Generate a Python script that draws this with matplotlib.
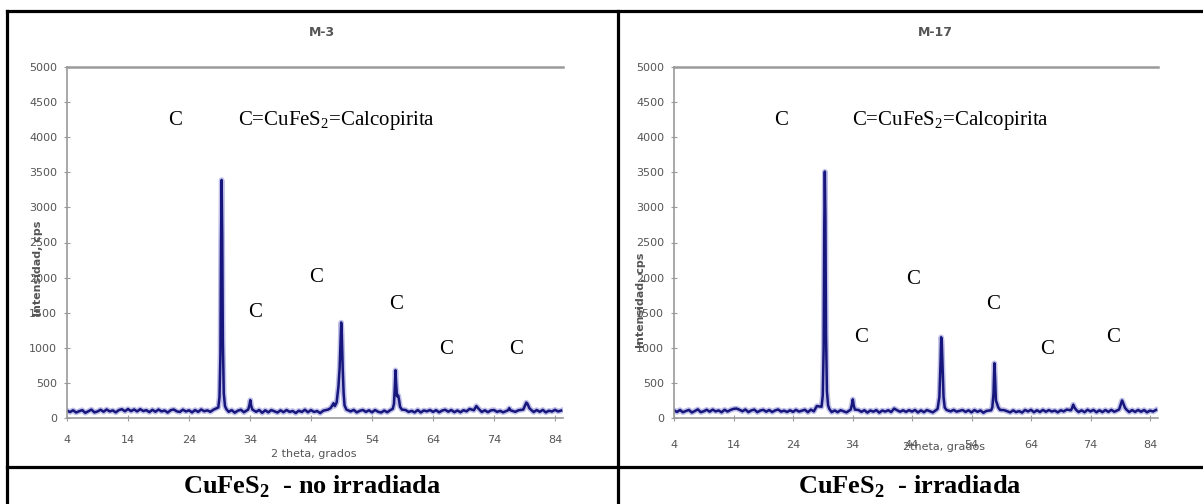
import numpy as np
import matplotlib
matplotlib.use("Agg")
import matplotlib.pyplot as plt
from matplotlib.lines import Line2D

plt.rcParams['mathtext.fontset'] = 'custom'
plt.rcParams['mathtext.rm'] = 'Liberation Serif'
plt.rcParams['mathtext.bf'] = 'Liberation Serif:bold'

W, H = 1203, 504

# scan grid for the baseline (0.5 deg steps, 4 .. 85)
base_x = np.arange(4.0, 85.01, 0.5)

# M-3 (no irradiada) baseline
m3_base = [
    105, 85, 110, 78, 97, 112, 74, 96, 120, 80, 93, 118, 89, 122, 94, 108, 80, 113, 125, 96,
    128, 98, 122, 94, 126, 99, 112, 84, 117, 89, 121, 94, 107, 78, 111, 122, 95, 86, 119, 93,
    110, 80, 114, 87, 122, 96, 109, 88, 118, 130, 140, 130, 115, 88, 112, 76, 104, 118, 82, 111,
    85, 118, 88, 114, 74, 110, 81, 113, 96, 78, 109, 83, 114, 87, 100, 71, 104, 86, 118, 82,
    113, 86, 99, 70, 104, 95, 117, 81, 110, 120, 140, 160, 120, 94, 116, 80, 102, 115, 87, 110,
    81, 114, 89, 78, 106, 82, 112, 95, 78, 109, 83, 114, 87, 101, 80, 114, 79, 108, 95, 114,
    87, 112, 81, 106, 118, 90, 114, 83, 107, 82, 111, 95, 130, 110, 88, 114, 86, 110, 83, 109,
    114, 87, 102, 81, 115, 96, 118, 88, 110, 84, 113, 87, 111, 85, 114, 88, 116, 80, 104, 92,
    117, 93, 106,
]
# M-3 peaks (2theta, cps)
m3_peak_x = [28.8, 29.0, 29.15, 29.25, 29.35, 29.45, 29.55, 29.7, 29.9, 30.1,
             33.7, 33.9, 34.05, 34.2, 34.4,
             46.8, 47.2, 47.5, 47.7, 47.9, 48.2, 48.5, 48.7, 48.85, 48.95, 49.05, 49.2, 49.35, 49.5, 49.8,
             57.4, 57.6, 57.75, 57.85, 57.95, 58.1, 58.3, 58.45, 58.6, 58.9,
             70.7, 70.9, 71.1, 71.3, 71.6,
             76.3, 76.5, 76.7,
             78.8, 79.0, 79.3, 79.5, 79.8, 80.1]
m3_peak_y = [150, 300, 900, 2500, 3390, 2600, 1100, 350, 170, 130,
             120, 180, 255, 170, 120,
             120, 140, 180, 210, 170, 220, 450, 720, 1100, 1360, 1200, 700, 350, 180, 120,
             130, 200, 450, 680, 500, 310, 320, 250, 160, 120,
             110, 140, 170, 150, 120,
             110, 140, 110,
             120, 160, 220, 200, 140, 115]

# M-17 (irradiada) baseline
m17_base = [
    110, 86, 114, 82, 100, 115, 78, 99, 123, 83, 96, 118, 90, 120, 94, 108, 81, 118, 92, 115,
    130, 135, 118, 96, 122, 84, 108, 120, 83, 106, 117, 90, 114, 85, 108, 121, 91, 105, 86, 110,
    87, 117, 91, 105, 118, 82, 120, 94, 170, 130, 150, 125, 112, 84, 108, 83, 111, 95, 80, 109,
    128, 90, 114, 88, 111, 77, 107, 90, 113, 76, 107, 91, 111, 85, 135, 110, 89, 110, 87, 112,
    91, 115, 79, 109, 83, 113, 96, 80, 115, 102, 130, 150, 120, 94, 116, 90, 102, 114, 87, 110,
    80, 114, 88, 108, 75, 101, 120, 130, 86, 109, 83, 112, 96, 80, 109, 84, 99, 77, 115, 93,
    117, 82, 110, 85, 116, 89, 113, 92, 106, 81, 110, 94, 120, 104, 87, 113, 85, 109, 83, 118,
    93, 116, 82, 110, 84, 114, 87, 116, 89, 113, 82, 106, 120, 85, 113, 87, 115, 89, 114, 81,
    106, 92, 115,
]
m17_peak_x = [28.8, 29.0, 29.15, 29.25, 29.35, 29.45, 29.55, 29.7, 29.9, 30.1,
              33.7, 33.9, 34.05, 34.2, 34.4,
              48.0, 48.3, 48.6, 48.8, 48.9, 49.0, 49.15, 49.3, 49.5, 49.8,
              57.3, 57.5, 57.7, 57.85, 57.95, 58.1, 58.3, 58.5, 58.8,
              70.7, 70.9, 71.1, 71.3, 71.6,
              78.8, 79.0, 79.3, 79.5, 79.8, 80.1]
m17_peak_y = [160, 320, 1000, 2700, 3510, 2800, 1200, 380, 180, 130,
              120, 190, 265, 180, 120,
              110, 130, 300, 800, 1150, 1100, 700, 300, 150, 115,
              110, 150, 350, 780, 600, 250, 200, 150, 115,
              110, 140, 190, 150, 115,
              120, 170, 250, 210, 145, 115]

x_ticks = [4, 14, 24, 34, 44, 54, 64, 74, 84]
y_ticks = [0, 500, 1000, 1500, 2000, 2500, 3000, 3500, 4000, 4500, 5000]

# "C" peak markers (2theta, cps) for each panel
m3_c_x = [21.7, 34.8, 44.9, 58.0, 66.2, 77.6]
m3_c_y = [4245, 1500, 2000, 1620, 970, 970]
m17_c_x = [22.0, 35.4, 44.2, 57.6, 66.7, 77.8]
m17_c_y = [4245, 1140, 1980, 1610, 970, 1140]


def merge(base, px_, py_):
    bx = np.array(base_x)
    by = np.array(base, dtype=float)
    px_ = np.array(px_)
    keep = np.array([not np.any(np.abs(px_ - xv) < 0.35) for xv in bx])
    x = np.concatenate([bx[keep], px_])
    y = np.concatenate([by[keep], np.array(py_, float)])
    order = np.argsort(x)
    return x[order], y[order]


fig = plt.figure(figsize=(W / 100, H / 100), dpi=100)


def fx(x):
    return x / W


def fy(y):
    return 1 - y / H


# table borders
for (x0, y0, x1, y1) in [(7, 11, W, 11), (7, 11, 7, H), (618, 11, 618, H), (7, 467, W, 467)]:
    fig.add_artist(Line2D([fx(x0), fx(x1)], [fy(y0), fy(y1)], color='black', lw=2.3,
                          transform=fig.transFigure, solid_capstyle='projecting'))

gray = '#555555'


def panel(left_px, right_px, px_per_deg, base, pkx, pky, cx, cy, title, title_x,
          legend_x, xlab, xlab_xy, ylab_xy, tick_pad):
    ax = fig.add_axes([fx(left_px), fy(418), fx(right_px - left_px), (418 - 67) / H])
    xmax = 4 + (right_px - left_px) / px_per_deg
    x, y = merge(base, pkx, pky)
    ax.plot(x, y, color='#8c8cd6', lw=4.0, alpha=0.55)
    ax.plot(x, y, color='#16167c', lw=1.8)
    ax.set_xlim(4, xmax)
    ax.set_ylim(0, 5000)
    ax.set_xticks(x_ticks)
    ax.set_yticks(y_ticks)
    for s in ['left', 'bottom', 'top']:
        ax.spines[s].set_color('#9a9a9a')
        ax.spines[s].set_linewidth(1.2)
    ax.spines['right'].set_visible(False)
    ax.spines['top'].set_linewidth(1.8)
    ax.tick_params(axis='both', colors='#9a9a9a', labelcolor=gray, labelsize=8,
                   length=4, width=0.8, direction='inout')
    ax.tick_params(axis='x', pad=tick_pad)
    ax.tick_params(axis='y', pad=5)
    for c_x, c_y in zip(cx, cy):
        ax.text(c_x, c_y, 'C', ha='center', va='center', fontsize=15,
                family='Liberation Serif', color='black')
    ax.text(legend_x, 4245, r'C=CuFeS$_2$=Calcopirita', ha='left', va='center',
            fontsize=15, family='Liberation Serif', color='black')
    fig.text(fx(title_x), fy(32), title, ha='center', va='center', fontsize=9,
             color=gray, fontweight='bold')
    fig.text(fx(xlab_xy[0]), fy(xlab_xy[1]), xlab, ha='center', va='center',
             fontsize=8, color=gray)
    fig.text(fx(ylab_xy[0]), fy(ylab_xy[1]), 'Intensidad, cps', ha='center', va='center',
             fontsize=8, color=gray, rotation=90, fontweight='bold')
    return ax


panel(67, 563, (555 - 67) / 80.0, m3_base, m3_peak_x, m3_peak_y, m3_c_x, m3_c_y,
      'M-3', 322, 32.0, '2 theta, grados', (314, 454), (38, 268), 10)
panel(674, 1158, (1150 - 674) / 80.0, m17_base, m17_peak_x, m17_peak_y, m17_c_x, m17_c_y,
      'M-17', 935, 33.9, '2theta, grados', (944, 447), (641, 300), 14)

# bottom row captions
fig.text(fx(312), fy(487), r'CuFeS$_\mathbf{2}$  - no irradiada', ha='center', va='center',
         fontsize=19, family='Liberation Serif', fontweight='bold')
fig.text(fx(910), fy(487), r'CuFeS$_\mathbf{2}$  - irradiada', ha='center', va='center',
         fontsize=19, family='Liberation Serif', fontweight='bold')

fig.savefig('out.png', dpi=100)
